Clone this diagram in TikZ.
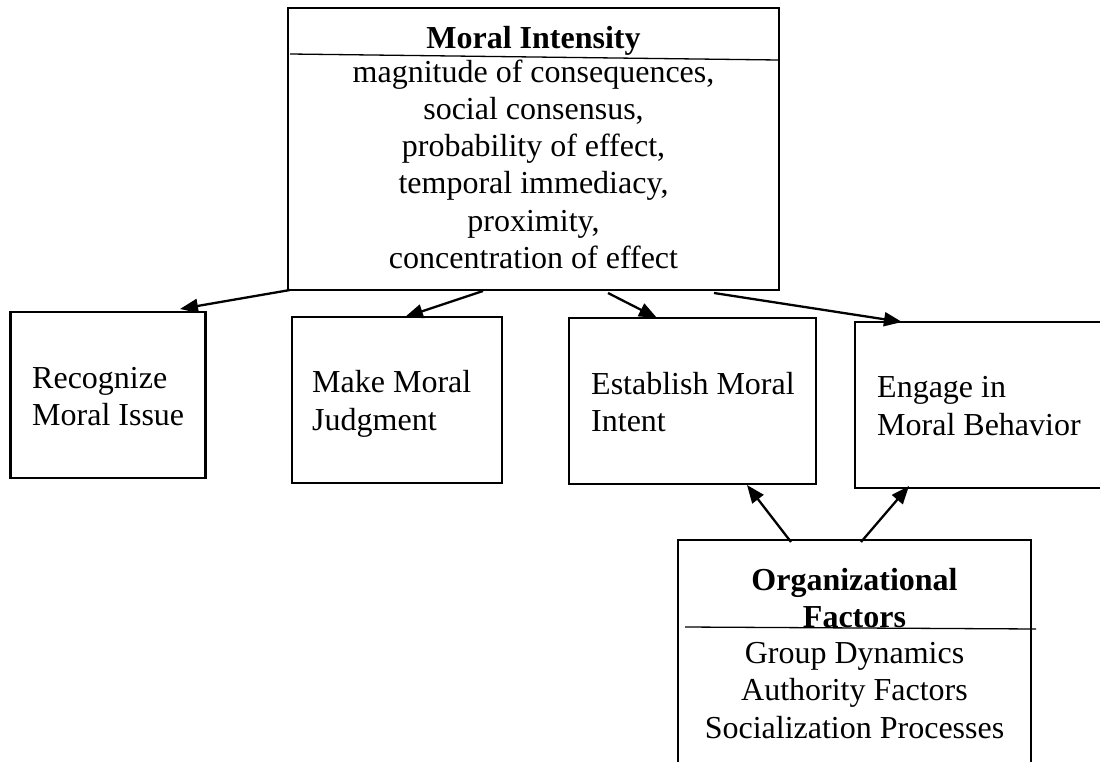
\documentclass[tikz,border=0pt]{standalone}
\usepackage{fontspec}
\setmainfont{Liberation Serif}
\usetikzlibrary{arrows.meta,calc}
\begin{document}
\begin{tikzpicture}[x=1pt,y=-1pt,
  box/.style={draw, line width=2.3pt, inner sep=0pt, outer sep=0pt, anchor=north west},
  rule/.style={line width=1.3pt},
  link/.style={line width=2.3pt, -{Triangle[length=18pt,width=14pt]}},
  txt/.style={anchor=base, inner sep=0pt, font=\fontsize{32}{37}\selectfont},
  ltxt/.style={txt, anchor=base west}]
\useasboundingbox[fill=white] (0,0) rectangle (1100,762);

% boxes
\node[box, minimum width=491pt, minimum height=282pt] (mi) at (288,8) {};
\node[box, minimum width=195pt, minimum height=166pt] (rec) at (10.5,312) {};
\node[box, minimum width=210pt, minimum height=166pt] (judg) at (292,317) {};
\node[box, minimum width=247pt, minimum height=166pt] (intent) at (569,318) {};
\node[box, minimum width=262pt, minimum height=166pt] (behav) at (855,322) {};
\node[box, minimum width=353pt, minimum height=240pt] (org) at (678,540) {};

% header rules
\draw[rule] ($(mi.north west)+(2,46)$) -- ($(mi.north east)+(-1,52)$);
\draw[rule] ($(org.north west)+(7,87)$) -- ($(org.north east)+(5,89)$);

% moral intensity
\node[txt, font=\fontsize{32}{37}\selectfont\bfseries] (mihead) at (533.5,49) {Moral Intensity};
\foreach \t/\y [count=\i] in {{magnitude of consequences,}/83, {social consensus,}/120,
    {probability of effect,}/157, {temporal immediacy,}/194, {proximity,}/231,
    {concentration of effect}/268}
  \node[txt] (mi\i) at (533.5,\y) {\t};

% stage boxes
\node[ltxt] (rec1) at (32,388) {Recognize};
\node[ltxt] (rec2) at (32,425) {Moral Issue};
\node[ltxt] (judg1) at (312,392) {Make Moral};
\node[ltxt] (judg2) at (312,430) {Judgment};
\node[ltxt] (intent1) at (591,394) {Establish Moral};
\node[ltxt] (intent2) at (591,431) {Intent};
\node[ltxt] (behav1) at (877,397) {Engage in};
\node[ltxt] (behav2) at (877,435) {Moral Behavior};

% organizational factors
\node[txt, font=\fontsize{32}{37}\selectfont\bfseries] (org1) at (854.5,590) {Organizational};
\node[txt, font=\fontsize{32}{37}\selectfont\bfseries] (org2) at (854.5,627) {Factors};
\node[txt] (org3) at (854.5,663) {Group Dynamics};
\node[txt] (org4) at (854.5,700) {Authority Factors};
\node[txt] (org5) at (854.5,738) {Socialization Processes};

% connectors
\draw[link] ($(mi.south west)+(2,0)$) -- ($(rec.north east)+(-25.5,-3)$);
\draw[link] ($(mi.south west)+(195,1)$) -- ($(judg.north west)+(113,0)$);
\draw[link] ($(mi.south west)+(320,3)$) -- ($(intent.north west)+(88,0)$);
\draw[link] ($(mi.south west)+(426,3)$) -- ($(behav.north west)+(47,0)$);
\draw[link] ($(org.north west)+(113,2)$) -- ($(intent.south west)+(178,1)$);
\draw[link] ($(org.north west)+(183,2)$) -- ($(behav.south west)+(54,-2)$);
\end{tikzpicture}
\end{document}
